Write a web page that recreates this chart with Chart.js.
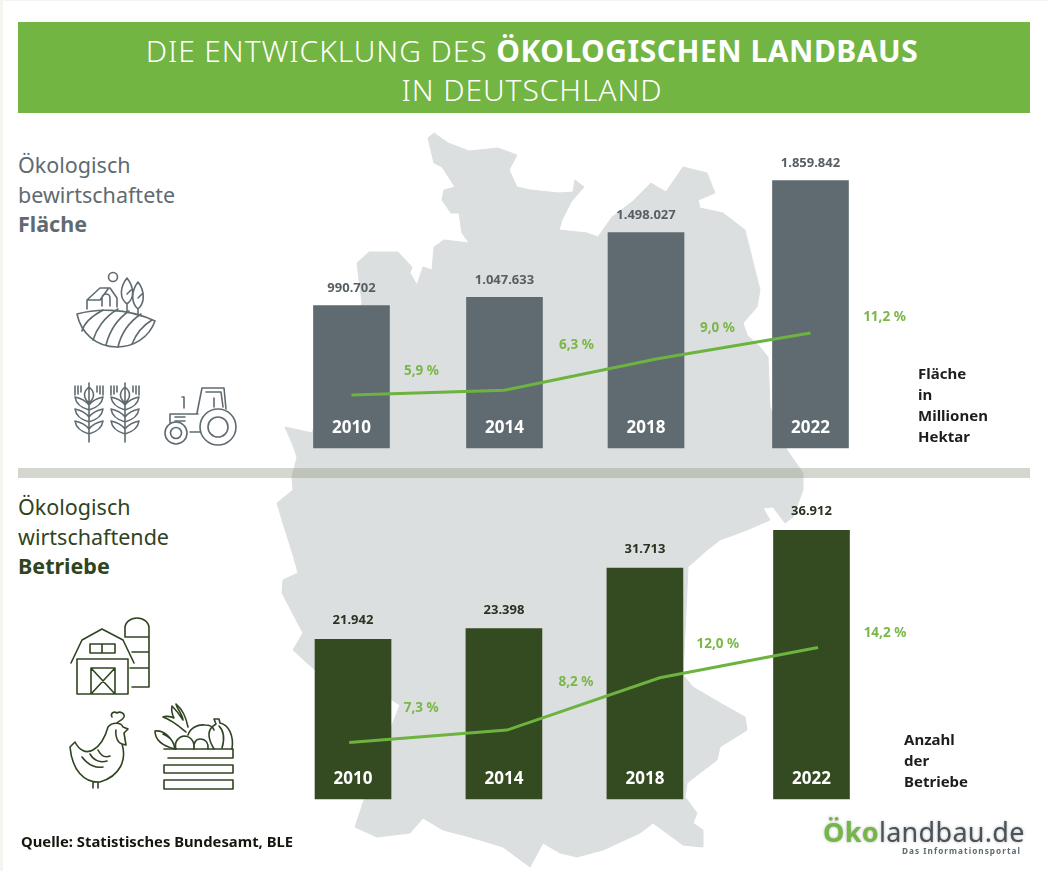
<!DOCTYPE html>
<html lang="de">
<head>
<meta charset="utf-8">
<title>Die Entwicklung des ökologischen Landbaus in Deutschland</title>
<script src="https://cdn.jsdelivr.net/npm/chart.js@4"></script>
<style>
  html, body { margin: 0; padding: 0; background: #fff; }
  body { width: 1048px; height: 873px; position: relative; overflow: hidden; font-family: "Noto Sans", sans-serif; }
  .abs { position: absolute; white-space: nowrap; }
  #frame { left: 0; top: 0; width: 1045px; height: 870px; border: 1px solid #f4f5ef; border-width: 1px 2px 0 3px; }
  #banner { left: 18px; top: 22px; width: 1012px; height: 91px; background: #72b542; }
  .title { left: 26px; width: 1012px; text-align: center; color: #fff; font-size: 30px; font-weight: 300; line-height: 39px; letter-spacing: .9px; }
  .title b { font-weight: 700; letter-spacing: .5px; }
  #map, #icons { left: 0; top: 0; }
  #divider { left: 18px; top: 468px; width: 1012px; height: 10px; background: rgba(150,160,135,.42); }
  canvas { position: absolute; display: block; }
  .head { left: 18px; font-size: 21.5px; line-height: 29.5px; }
  .note { font-size: 15px; font-weight: 700; color: #1d1d1d; line-height: 21px; }
  #source { left: 21px; top: 831px; font-size: 14.8px; font-weight: 700; color: #16160f; }
  #logo { left: 823px; top: 814px; font-size: 27px; line-height: 36px; color: #4b5358; text-shadow: 0 0 3px rgba(70,80,85,.45); letter-spacing: .3px; }
  #logo span { color: #76b648; font-weight: 700; }
  #claim { left: 902px; top: 845px; font-size: 8.2px; color: #5f6b70; letter-spacing: 1.05px; font-weight: 700; }
</style>
</head>
<body>
<div class="abs" id="frame"></div>
<div class="abs" id="banner"></div>
<div class="abs title" style="top:31px">DIE ENTWICKLUNG DES <b>ÖKOLOGISCHEN LANDBAUS</b></div>
<div class="abs title" style="top:70px">IN DEUTSCHLAND</div>

<svg class="abs" id="map" width="1048" height="873">
  <path fill="#dcdfe0" stroke="#dcdfe0" stroke-width="1" stroke-linejoin="round" d="M428 138 434 133 448 143 469 151 498 148 517 155 509 170 517 187 530 190 559 193 573 192 575 180 584 187 571 202 562 220 559 230 587 233 598 237 612 217 632 202 651 183 666 192 683 167 707 173 715 193 698 200 700 208 723 213 745 230 760 290 757 307 743 323 747 335 760 347 768 357 770 407 787 450 803 473 803 490 793 517 785 523 773 507 763 508 770 520 747 530 720 540 707 550 688 567 683 675 693 687 720 703 745 717 747 730 720 747 717 760 687 783 685 797 697 813 693 823 703 830 703 847 683 845 653 823 640 833 603 850 577 857 560 853 543 843 530 867 503 847 470 837 443 830 423 818 410 833 377 837 355 827 363 803 380 760 392 725 400 705 392 700 315 670 293 650 303 633 282 593 283 580 298 573 293 555 282 520 277 503 293 490 292 477 297 457 292 443 285 427 312 433 362 303 357 263 369 252 398 252 412 267 410 273 417 285 423 267 432 270 434 247 444 240 469 243 462 233 459 213 451 213 442 200 444 190 455 187 442 167 434 163Z"/>
</svg>
<div class="abs" id="divider"></div>

<svg class="abs" id="icons" width="1048" height="873" fill="none" stroke-width="1.6" stroke-linejoin="round" stroke-linecap="round">
  <defs>
    <g id="wheat">
      <path d="M0 0V59M0 4C-6 9-6 15 0 20 6 15 6 9 0 4ZM0 22C-4 17-9 15-14 14-13 21-7 25 0 27 7 25 13 21 14 14 9 15 4 17 0 22ZM0 34C-4 29-9 27-14 26-13 33-7 37 0 39 7 37 13 33 14 26 9 27 4 29 0 34ZM0 46C-4 41-9 39-14 38-13 45-7 49 0 51 7 49 13 45 14 38 9 39 4 41 0 46ZM-14 3V12M-11 3V11M-8 3V9M14 3V12M11 3V11M8 3V9"/>
    </g>
  </defs>
  <g stroke="#5f6b70">
    <circle cx="113" cy="277" r="4.5"/>
    <path d="M87 309V300L100 288H110L117 298V307M87 300H100L108 289M102 306V298A4 4 0 0 1 110 298V306"/>
    <path d="M127 278C120 287 119 298 127 304 135 298 134 287 127 278ZM127 304V312M138 282C131 291 131 303 138 309 145 303 145 291 138 282ZM138 309V314M127 294 131 290M138 298 142 294"/>
    <path d="M77 314C95 309 125 307 155 321 149 338 133 347 117 347 96 347 81 333 77 314Z"/>
    <path d="M103 310C92 316 84 323 82 331M118 309C104 317 96 330 93 340M129 311C116 320 109 333 106 345M141 314C129 322 121 334 118 347M152 320C142 326 136 334 132 344"/>
    <use href="#wheat" x="89" y="383"/>
    <use href="#wheat" x="125" y="383"/>
    <circle cx="218" cy="427" r="18"/><circle cx="218" cy="427" r="10"/>
    <circle cx="176" cy="433" r="11"/><circle cx="176" cy="433" r="5.5"/>
    <path d="M197 413 202 388H224L226 409M206 392H221L223 407M214 398V407M170 423V414H198M184 397V408M182 397H184M175 417H185M175 421H185M190 432H200"/>
  </g>
  <g stroke="#2f4420">
    <path d="M71 663 82 640 102 629 123 640 134 663M77 659H128V694H77ZM91 668H115V694H91ZM91 668 115 694M115 668 91 694M90 644H115V653H90ZM102 644V653"/>
    <path d="M125 637V628A12 10 0 0 1 149 628V687H132M125 637H149M132 652H149M130 668H149"/>
    <path d="M112 717C110 713 114 711 117 713 120 711 125 713 124 717 122 721 118 721 117 723M108 727C112 722 121 722 123 727L128 729 124 733 126 745 122 744C127 760 120 776 100 782 84 783 72 770 70 747L75 742C79 750 86 754 93 750 100 746 105 738 108 727ZM93 782V788M98 782V788M116 730C115 737 118 743 122 744M82 757C88 765 96 768 103 767M90 754C94 761 101 763 107 761M98 750C101 756 105 758 110 756"/>
    <path d="M164 749H233V758H168M233 765V773H164V765H233M164 780H233V789H164Z"/>
    <path d="M175 749C163 746 155 740 155 731 164 730 173 738 175 749M174 744C172 740 168 736 163 734"/>
    <path d="M176 749C174 742 178 737 184 736 190 736 195 741 194 749M194 749C193 743 196 739 200 739 206 739 209 744 208 749M188 735C190 728 198 724 205 725 210 725 213 727 214 730M214 749C207 737 207 729 216 724L214 719 219 719 220 723C229 725 234 736 232 749M222 748C225 738 224 731 219 726"/>
    <path d="M186 732C180 727 172 720 163 717 165 716 170 716 174 718 172 714 171 711 172 706 176 710 180 715 183 720 183 715 177 709 176 704 181 708 186 717 188 727"/>
  </g>
</svg>

<canvas id="areaChart" width="640" height="334" style="left:280px;top:130px;width:640px;height:334px"></canvas>
<canvas id="farmChart" width="640" height="353" style="left:280px;top:490px;width:640px;height:353px"></canvas>

<div class="abs head" style="top:150px;color:#5f6b70">Ökologisch<br>bewirtschaftete<br><b>Fläche</b></div>
<div class="abs head" style="top:492px;color:#2f4420">Ökologisch<br>wirtschaftende<br><b>Betriebe</b></div>
<div class="abs note" style="left:918px;top:363px">Fläche<br>in<br>Millionen<br>Hektar</div>
<div class="abs note" style="left:904px;top:729px">Anzahl<br>der<br>Betriebe</div>
<div class="abs" id="source">Quelle: Statistisches Bundesamt, BLE</div>
<div class="abs" id="logo"><span>Öko</span>landbau.de</div>
<div class="abs" id="claim">Das Informationsportal</div>

<script>
const years = [2010, 2014, 2018, 2022];
const areaValues = [990702, 1047633, 1498027, 1859842];
const areaShare = [5.9, 6.3, 9.0, 11.2];
const farmValues = [21942, 23398, 31713, 36912];
const farmShare = [7.3, 8.2, 12.0, 14.2];

const LABEL_FONT = '"Noto Sans", sans-serif';

function formatShare(v) {
    return v.toFixed(1).replace('.', ',') + ' %';
}

// value on top of the bar, year inside it, share next to the line
const labelPlugin = {
    id: 'labels',
    afterDatasetsDraw(chart, args, opts) {
        const ctx = chart.ctx;
        const bars = chart.getDatasetMeta(0).data;
        const points = chart.getDatasetMeta(1).data;
        ctx.save();
        ctx.textAlign = 'center';
        ctx.textBaseline = 'middle';
        bars.forEach(function(bar, i) {
            ctx.font = '700 13px ' + LABEL_FONT;
            ctx.fillStyle = opts.valueColor;
            ctx.fillText(chart.data.datasets[0].data[i].y.toLocaleString('de-DE'), bar.x, bar.y + opts.valueGap);
            ctx.font = '700 17px ' + LABEL_FONT;
            ctx.fillStyle = '#fff';
            ctx.fillText(years[i], bar.x, bar.base - 20);
            const p = points[i];
            ctx.font = '700 13.5px ' + LABEL_FONT;
            ctx.fillStyle = '#7ab648';
            ctx.fillText(formatShare(chart.data.datasets[1].data[i].y), p.x + opts.shareOffset[i][0], p.y + opts.shareOffset[i][1]);
        });
        ctx.restore();
    }
};

function makeChart(id, cfg) {
    return new Chart(document.getElementById(id), {
        type: 'bar',
        plugins: [labelPlugin],
        data: {
            datasets: [{
                type: 'bar',
                data: years.map((y, i) => ({ x: y + cfg.barNudge[i], y: cfg.values[i] })),
                backgroundColor: cfg.color,
                barThickness: 76,
                xAxisID: 'x',
                yAxisID: 'yBars',
                order: 1
            }, {
                type: 'line',
                data: years.map((y, i) => ({ x: y + cfg.lineNudge[i], y: cfg.share[i] })),
                borderColor: '#6cb33f',
                borderWidth: 3,
                pointRadius: 0,
                tension: 0,
                xAxisID: 'x',
                yAxisID: 'yShare',
                order: 0
            }]
        },
        options: {
            responsive: false,
            animation: false,
            devicePixelRatio: 1,
            layout: { padding: 0 },
            scales: {
                x: { type: 'linear', display: false, offset: false, min: cfg.xRange[0], max: cfg.xRange[1] },
                yBars: { display: false, min: cfg.barRange[0], max: cfg.barRange[1] },
                yShare: { display: false, min: 0, max: cfg.shareMax }
            },
            plugins: {
                legend: { display: false },
                tooltip: { enabled: false },
                labels: { valueColor: cfg.valueColor, valueGap: cfg.valueGap, shareOffset: cfg.shareOffset }
            }
        }
    });
}

makeChart('areaChart', {
    values: areaValues,
    share: areaShare,
    color: '#5f6b70',
    valueColor: '#565f63',
    valueGap: -17.5,
    barNudge: [0, 0, -0.3, 0],
    lineNudge: [0, 0, 0, 0],
    xRange: [2008.131, 2024.863],
    barRange: [-111000, 2211400],
    shareMax: 28.55,
    shareOffset: [[70, -24], [72, -45], [60, -31], [74, -16]]
});

makeChart('farmChart', {
    values: farmValues,
    share: farmShare,
    color: '#344a20',
    valueColor: '#2a3322',
    valueGap: -18.5,
    barNudge: [0, -0.05, -0.36, 0],
    lineNudge: [-0.1, 0.03, 0.03, 0.17],
    xRange: [2008.089, 2024.84],
    barRange: [-6044, 42445],
    shareMax: 25.64,
    shareOffset: [[72, -34], [69, -48], [58, -34], [67, -14]]
});
</script>
</body>
</html>
